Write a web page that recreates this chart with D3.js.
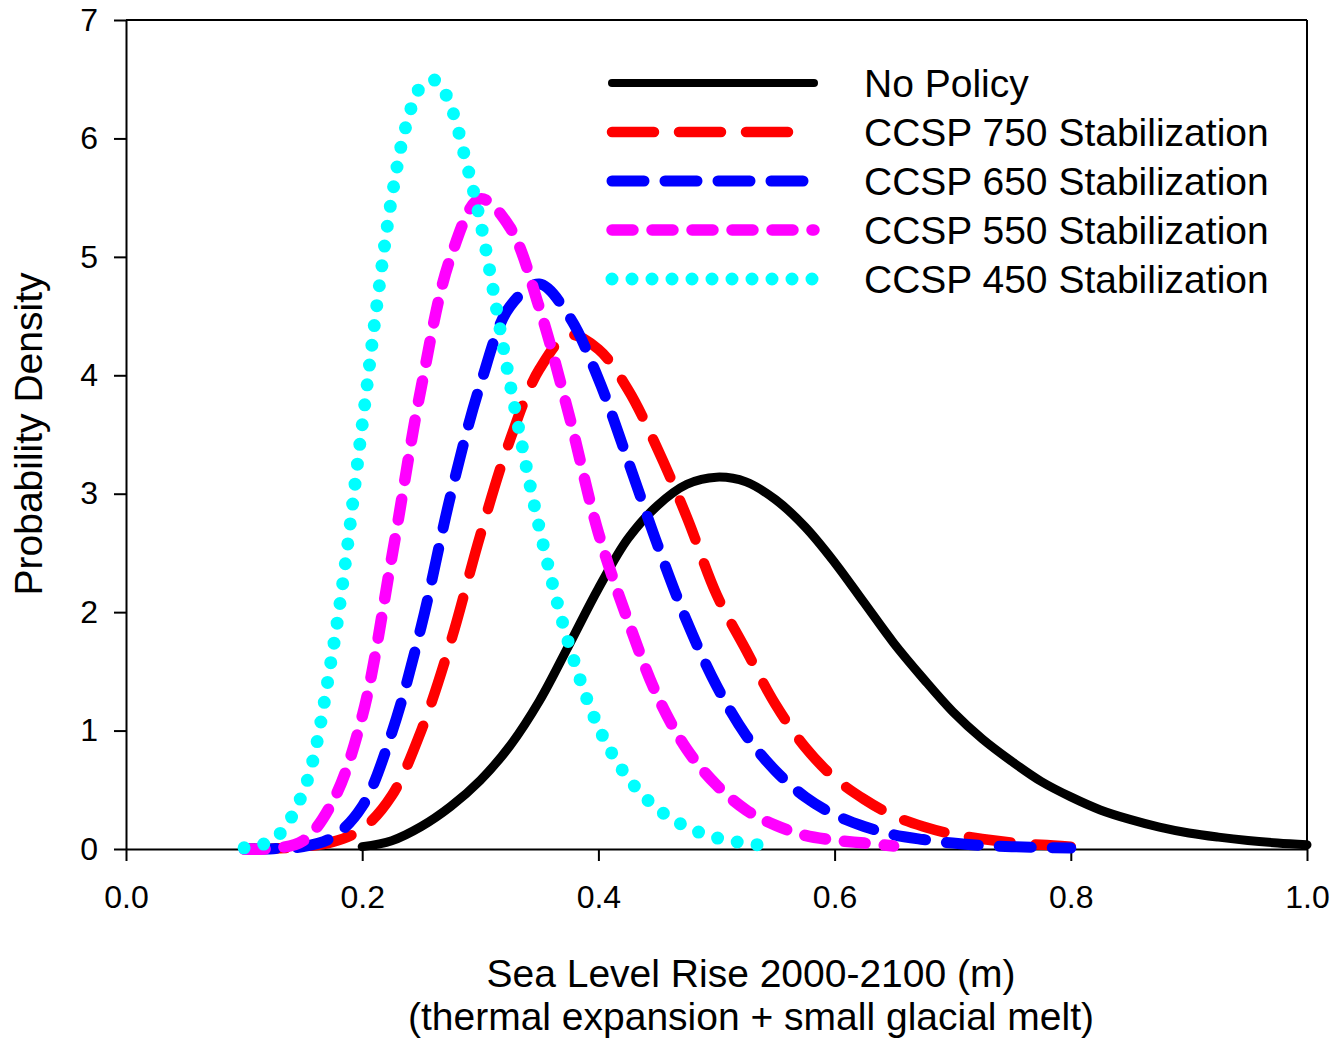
<!DOCTYPE html>
<html>
<head>
<meta charset="utf-8">
<script src="https://cdn.jsdelivr.net/npm/d3@7"></script>
<style>
body{margin:0;background:#fff;}
svg{display:block;font-family:"Liberation Sans",Arial,sans-serif;}
</style>
</head>
<body>
<div id="chart"></div>
<script>
// values
var noPolicyX = [0.20,0.225,0.25,0.275,0.30,0.325,0.35,0.375,0.40,0.425,0.45,0.475,0.50,0.525,0.55,0.575,0.60,0.625,0.65,0.675,0.70,0.725,0.75,0.775,0.80,0.825,0.85,0.875,0.90,0.925,0.95,0.975,1.00];
var noPolicyY = [0.02,0.07,0.19,0.36,0.58,0.87,1.25,1.72,2.20,2.62,2.90,3.08,3.14,3.10,2.95,2.72,2.42,2.08,1.74,1.44,1.16,0.93,0.74,0.57,0.44,0.33,0.25,0.185,0.135,0.10,0.072,0.051,0.035];

var ccsp750X = [0.10,0.125,0.15,0.175,0.20,0.225,0.25,0.275,0.30,0.325,0.35,0.375,0.40,0.425,0.45,0.475,0.50,0.525,0.55,0.575,0.60,0.625,0.65,0.675,0.70,0.725,0.75,0.775,0.80];
var ccsp750Y = [0.0,0.005,0.02,0.06,0.17,0.45,1.00,1.75,2.65,3.45,4.05,4.34,4.22,3.88,3.38,2.80,2.15,1.68,1.22,0.86,0.60,0.42,0.28,0.19,0.125,0.085,0.055,0.035,0.02];

var ccsp650X = [0.10,0.125,0.15,0.175,0.20,0.225,0.25,0.275,0.30,0.325,0.35,0.375,0.40,0.425,0.45,0.475,0.50,0.525,0.55,0.575,0.60,0.625,0.65,0.675,0.70,0.725,0.75,0.775,0.80];
var ccsp650Y = [0.0,0.003,0.02,0.10,0.36,0.98,1.88,2.99,3.92,4.58,4.77,4.50,3.97,3.28,2.57,1.92,1.38,0.96,0.66,0.44,0.29,0.19,0.12,0.08,0.05,0.03,0.02,0.012,0.008];

var ccsp550X = [0.10,0.125,0.15,0.175,0.20,0.225,0.25,0.275,0.30,0.325,0.35,0.375,0.40,0.425,0.45,0.475,0.50,0.525,0.55,0.575,0.60,0.625,0.65];
var ccsp550Y = [0.0,0.005,0.07,0.40,1.12,2.46,3.90,5.00,5.49,5.25,4.57,3.67,2.67,1.93,1.29,0.84,0.54,0.33,0.20,0.115,0.075,0.05,0.025];

var ccsp450X = [0.10,0.125,0.15,0.175,0.20,0.2125,0.225,0.2375,0.25,0.2625,0.275,0.2875,0.30,0.325,0.35,0.375,0.40,0.425,0.45,0.475,0.50,0.525,0.55];
var ccsp450Y = [0.01,0.08,0.48,1.67,3.58,4.60,5.50,6.12,6.44,6.49,6.27,5.82,5.30,3.94,2.71,1.73,1.03,0.60,0.34,0.185,0.095,0.048,0.022];

var seriesNames = ["No Policy","CCSP 750 Stabilization","CCSP 650 Stabilization","CCSP 550 Stabilization","CCSP 450 Stabilization"];
var yTicks = [0,1,2,3,4,5,6,7];
var xTicks = [0.0,0.2,0.4,0.6,0.8,1.0];

var series = [
    {name: seriesNames[0], xs: noPolicyX, ys: noPolicyY, color: "#000000", w: 9,    dash: null,    legEnd: 814},
    {name: seriesNames[1], xs: ccsp750X,  ys: ccsp750Y,  color: "#ff0000", w: 10.5, dash: "42,25", legEnd: 800},
    {name: seriesNames[2], xs: ccsp650X,  ys: ccsp650Y,  color: "#0000ff", w: 11,   dash: "32,21", legEnd: 808},
    {name: seriesNames[3], xs: ccsp550X,  ys: ccsp550Y,  color: "#ff00ff", w: 11.5, dash: "21,19", legEnd: 814},
    {name: seriesNames[4], xs: ccsp450X,  ys: ccsp450Y,  color: "#00ffff", w: 13,   dash: "0,20",  legEnd: 814}
];

var width = 1335, height = 1038;
var plotL = 126, plotR = 1307, plotT = 20, plotB = 849;

var svg = d3.select("#chart").append("svg").attr("width", width).attr("height", height);

var x = d3.scaleLinear().domain([0, 1]).range([plotL, plotR]);
var y = d3.scaleLinear().domain([0, 7]).range([plotB, plotT]);

// frame top + right
svg.append("line").attr("x1", plotL).attr("x2", plotR).attr("y1", plotT).attr("y2", plotT)
    .attr("stroke", "#000").attr("stroke-width", 2);
svg.append("line").attr("x1", plotR).attr("x2", plotR).attr("y1", plotT).attr("y2", plotB)
    .attr("stroke", "#000").attr("stroke-width", 2);

var yAxis = svg.append("g").attr("transform", "translate(" + plotL + ",0)")
    .call(d3.axisLeft(y).tickValues(yTicks).tickSize(12).tickSizeOuter(0).tickPadding(16).tickFormat(d3.format("d")));
var xAxis = svg.append("g").attr("transform", "translate(0," + plotB + ")")
    .call(d3.axisBottom(x).tickValues(xTicks).tickSize(12).tickSizeOuter(0).tickPadding(24).tickFormat(d3.format(".1f")));

[yAxis, xAxis].forEach(function(g){
    g.attr("font-family", null).attr("font-size", null).attr("color", "#000");
    g.selectAll("path, line").attr("stroke-width", 2);
    g.selectAll("text").style("font-size", "32px");
});

var line = d3.line()
    .x(function(d){ return x(d[0]); })
    .y(function(d){ return y(d[1]); })
    .curve(d3.curveCatmullRom.alpha(0.5));

svg.selectAll("path.curve")
    .data(series)
    .enter()
    .append("path")
    .attr("class", "curve")
    .attr("d", function(s){
        return line(s.xs.map(function(v, i){ return [v, s.ys[i]]; }));
    })
    .attr("fill", "none")
    .attr("stroke", function(s){ return s.color; })
    .attr("stroke-width", function(s){ return s.w; })
    .attr("stroke-dasharray", function(s){ return s.dash; })
    .attr("stroke-linecap", "round")
    .attr("stroke-linejoin", "round");

// legend
var legend = svg.append("g");
var items = legend.selectAll("g").data(series).enter().append("g")
    .attr("transform", function(d, i){ return "translate(0," + (83 + i * 49) + ")"; });
items.append("line")
    .attr("x1", 612).attr("x2", function(d){ return d.legEnd; })
    .attr("y1", 0).attr("y2", 0)
    .attr("stroke", function(d){ return d.color; })
    .attr("stroke-width", function(d){ return d.dash ? d.w : 8; })
    .attr("stroke-dasharray", function(d){ return d.dash; })
    .attr("stroke-linecap", "round");
items.append("text")
    .attr("x", 864).attr("y", 14)
    .style("font-size", "39px")
    .text(function(d){ return d.name; });

// axis titles
svg.append("text")
    .attr("transform", "translate(42,434) rotate(-90)")
    .attr("text-anchor", "middle")
    .style("font-size", "39px")
    .text("Probability Density");

svg.append("text").attr("x", 751).attr("y", 987)
    .attr("text-anchor", "middle").style("font-size", "39px")
    .text("Sea Level Rise 2000-2100 (m)");
svg.append("text").attr("x", 751).attr("y", 1030)
    .attr("text-anchor", "middle").style("font-size", "39px")
    .text("(thermal expansion + small glacial melt)");
</script>
</body>
</html>
